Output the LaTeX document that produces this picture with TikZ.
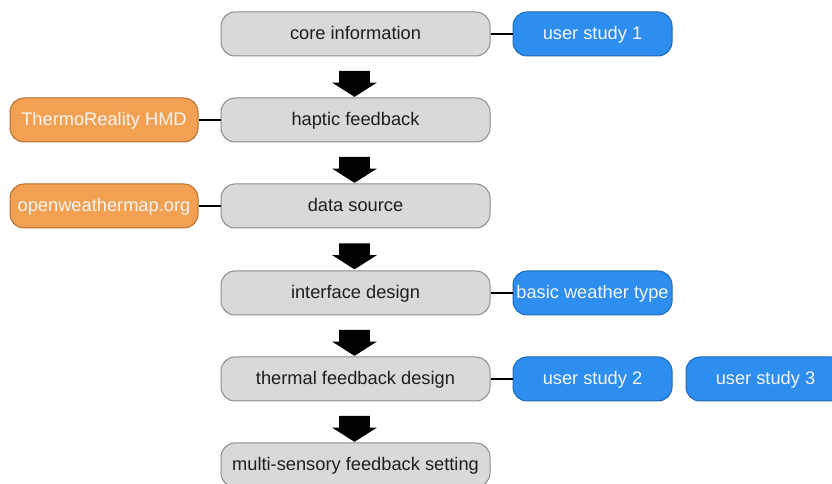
\documentclass[tikz,border=0pt]{standalone}
\usepackage{fontspec}
\setmainfont{Liberation Sans}
\usetikzlibrary{shapes.arrows,calc}
\definecolor{grayfill}{RGB}{217,217,217}
\definecolor{grayline}{RGB}{140,140,140}
\definecolor{graytext}{RGB}{30,30,30}
\definecolor{bluefill}{RGB}{45,142,240}
\definecolor{blueline}{RGB}{30,105,185}
\definecolor{orangefill}{RGB}{242,160,82}
\definecolor{orangeline}{RGB}{185,110,45}
\definecolor{lighttext}{RGB}{245,245,245}
\tikzset{
  base/.style={rounded corners=10.5pt, minimum height=33pt, inner sep=0pt,
    font=\fontsize{13.7}{16}\selectfont, text height=11pt, text depth=2.5pt, line width=0.75pt},
  graybox/.style={base, draw=grayline, fill=grayfill, text=graytext, minimum width=201.75pt},
  bluebox/.style={base, draw=blueline, fill=bluefill, text=lighttext, minimum width=119.25pt},
  orangebox/.style={base, draw=orangeline, fill=orangefill, text=lighttext, minimum width=141pt},
  link/.style={line width=1.1pt, black},
  flow/.style={single arrow, fill=black, draw=none, rotate=-90, inner xsep=0pt, inner ysep=11.25pt,
    minimum height=19.5pt, single arrow head extend=5.25pt, single arrow tip angle=115}
}
\begin{document}
\begin{tikzpicture}[x=0.75pt,y=-0.75pt]
\useasboundingbox (0,0) rectangle (832,484);
% main column
\node[graybox] (core) at (355.5,34) {core information};
\node[graybox] (haptic) at (355.5,120) {haptic feedback};
\node[graybox] (data) at (355.5,206) {data source};
\node[graybox] (iface) at (355.5,293) {interface design};
\node[graybox] (thermal) at (355.5,379) {thermal feedback design};
\node[graybox] (multi) at (355.5,465) {multi-sensory feedback setting};
% side nodes
\node[bluebox] (us1) at (592.5,34) {user study 1};
\node[bluebox] (bwt) at (592.5,293) {basic weather type};
\node[bluebox] (us2) at (592.5,379) {user study 2};
\node[bluebox] (us3) at (765.5,379) {user study 3};
\node[orangebox] (hmd) at (104,120) {ThermoReality HMD};
\node[orangebox] (owm) at (104,206) {openweathermap.org};
% links
\draw[link] (core.east) -- (us1.west);
\draw[link] (iface.east) -- (bwt.west);
\draw[link] (thermal.east) -- (us2.west);
\draw[link] (hmd.east) -- (haptic.west);
\draw[link] (owm.east) -- (data.west);
% flow arrows
\node[flow] (a1) at ($(core.south)!0.5!(haptic.north)+(-1,2)$) {};
\node[flow] (a2) at ($(haptic.south)!0.5!(data.north)+(-1,2)$) {};
\node[flow] (a3) at ($(data.south)!0.5!(iface.north)+(-1,2)$) {};
\node[flow] (a4) at ($(iface.south)!0.5!(thermal.north)+(-1,2)$) {};
\node[flow] (a5) at ($(thermal.south)!0.5!(multi.north)+(-1,2)$) {};
\end{tikzpicture}
\end{document}
